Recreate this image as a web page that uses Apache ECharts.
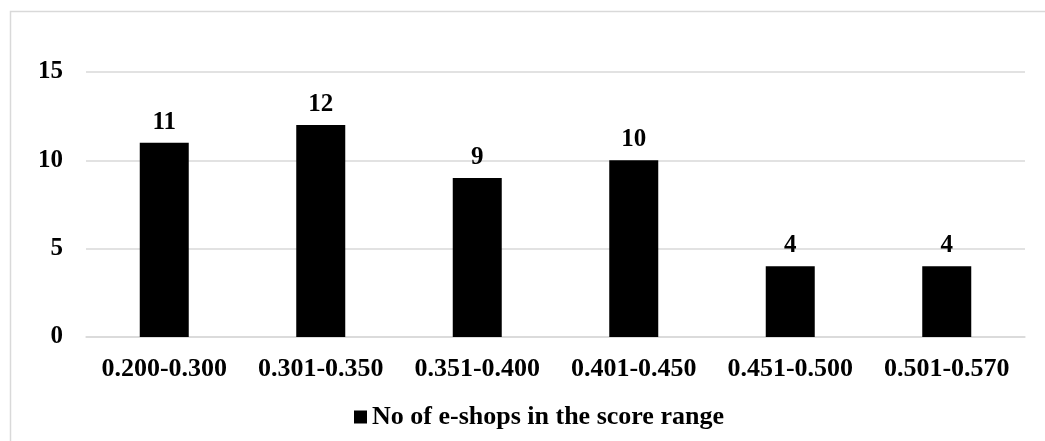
<!DOCTYPE html>
<html><head><meta charset="utf-8">
<script src="https://cdn.jsdelivr.net/npm/echarts@6/dist/echarts.min.js"></script>
<style>html,body{margin:0;padding:0;background:#fff}#c{width:1045px;height:441px}</style>
</head><body><div id="c"></div>
<script>
const categories = ['0.200-0.300','0.301-0.350','0.351-0.400','0.401-0.450','0.451-0.500','0.501-0.570'];
const values = [11, 12, 9, 10, 4, 4];
const seriesName = 'No of e-shops in the score range';
const FONT = '"Liberation Serif","Times New Roman",serif';
const chart = echarts.init(document.getElementById('c'), null, {renderer:'canvas'});
chart.setOption({
  animation:false,
  backgroundColor:'#fff',
  graphic:[{type:'rect',shape:{x:10.5,y:11.5,width:1060,height:460},style:{fill:'none',stroke:'#d9d9d9',lineWidth:1.5},silent:true}],
  grid:{left:86,right:20,top:72,bottom:104,containLabel:false},
  legend:{bottom:6,left:349,icon:'rect',itemWidth:13,itemHeight:13,itemGap:10,
    textStyle:{fontFamily:FONT,fontWeight:'bold',fontSize:26,color:'#000'},
    data:[seriesName]},
  xAxis:{type:'category',data:categories,
    axisLine:{show:true,lineStyle:{color:'#d9d9d9',width:1.5}},axisTick:{show:false},
    axisLabel:{fontFamily:FONT,fontWeight:'bold',fontSize:26,color:'#000',margin:19,interval:0}},
  yAxis:{type:'value',min:0,max:15,interval:5,
    axisLine:{show:false},axisTick:{show:false},
    splitLine:{lineStyle:{color:'#d9d9d9',width:1.5}},
    axisLabel:{fontFamily:FONT,fontWeight:'bold',fontSize:25,color:'#000',margin:23}},
  series:[{name:seriesName,type:'bar',data:values,barWidth:49,itemStyle:{color:'#000'},
    label:{show:true,position:'top',distance:8,fontFamily:FONT,fontWeight:'bold',fontSize:25,color:'#000'}}]
});
</script></body></html>
